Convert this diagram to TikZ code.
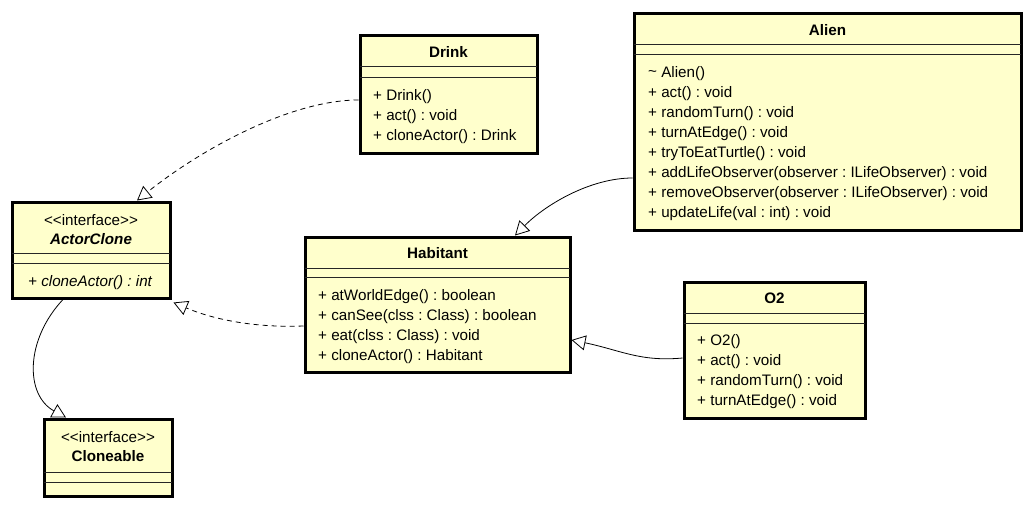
\documentclass[tikz,border=0pt]{standalone}
\usepackage{fontspec}
\setmainfont{Liberation Sans}
\usetikzlibrary{arrows.meta,fit}
\definecolor{umlfill}{HTML}{FFFFCC}
\newcommand{\umlfont}{\fontsize{15.2}{17}\selectfont\frenchspacing}
\tikzset{
  classbox/.style={draw=black, line width=3pt, fill=umlfill, inner sep=0pt},
  divider/.style={draw=black!85, line width=0.8pt},
  member/.style={anchor=mid west, inner sep=0pt, yshift=-3pt, font=\umlfont},
  ctitle/.style={anchor=mid, inner sep=0pt, yshift=-3pt, font=\umlfont\bfseries},
  stereo/.style={anchor=mid, inner sep=0pt, yshift=-3pt, font=\umlfont},
  inherit/.style={draw=black, line width=0.8pt, -{Triangle[open, length=14pt, width=15pt, line width=0.8pt]}},
  realize/.style={inherit, dash pattern=on 5pt off 4pt},
}
\begin{document}
\begin{tikzpicture}[x=1pt, y=-1pt]
\useasboundingbox (0,0) rectangle (1034,509);

% ---------- Drink
\node[classbox, fit={(360,35) (537,153)}] (drink) {};
\node[ctitle] (drinkT) at (448.5,52) {Drink};
\draw[divider] (360,66) -- (537,66);
\draw[divider] (360,77) -- (537,77);
\node[member] (drink1) at (373,95) {+ Drink()};
\node[member] (drink2) at (373,115) {+ act() : void};
\node[member] (drink3) at (373,135) {+ cloneActor() : Drink};

% ---------- Alien
\node[classbox, fit={(634,13) (1021,230)}] (alien) {};
\node[ctitle] (alienT) at (827.5,30) {Alien};
\draw[divider] (634,44) -- (1021,44);
\draw[divider] (634,54) -- (1021,54);
\node[member] (al1) at (648,72) {\raisebox{0.15ex}{\char"007E} Alien()};
\node[member] (al2) at (648,92) {+ act() : void};
\node[member] (al3) at (648,112) {+ randomTurn() : void};
\node[member] (al4) at (648,132) {+ turnAtEdge() : void};
\node[member] (al5) at (648,152) {+ tryToEatTurtle() : void};
\node[member] (al6) at (648,172) {+ addLifeObserver(observer : ILifeObserver) : void};
\node[member] (al7) at (648,192) {+ removeObserver(observer : ILifeObserver) : void};
\node[member] (al8) at (648,212) {+ updateLife(val : int) : void};

% ---------- ActorClone
\node[classbox, fit={(12,202) (170,298)}] (actorclone) {};
\node[stereo] (acS) at (91,220) {<{}<interface>{}>};
\node[ctitle, font=\umlfont\bfseries\itshape] (acT) at (91,239) {ActorClone};
\draw[divider] (12,253) -- (170,253);
\draw[divider] (12,263) -- (170,263);
\node[member, font=\umlfont\itshape] (ac1) at (28,281) {+ cloneActor() : int};

% ---------- Cloneable
\node[classbox, fit={(44,419) (172,496)}] (cloneable) {};
\node[stereo] (clS) at (108,437) {<{}<interface>{}>};
\node[ctitle] (clT) at (108,456) {Cloneable};
\draw[divider] (44,472) -- (172,472);
\draw[divider] (44,482) -- (172,482);

% ---------- Habitant
\node[classbox, fit={(305,237) (570,372)}] (habitant) {};
\node[ctitle] (habT) at (437.5,253) {Habitant};
\draw[divider] (305,268) -- (570,268);
\draw[divider] (305,277) -- (570,277);
\node[member] (h1) at (318,295) {+ atWorldEdge() : boolean};
\node[member] (h2) at (318,315) {+ canSee(clss : Class) : boolean};
\node[member] (h3) at (318,335) {+ eat(clss : Class) : void};
\node[member] (h4) at (318,355) {+ cloneActor() : Habitant};

% ---------- O2
\node[classbox, fit={(684,282) (865,418)}] (o2) {};
\node[ctitle] (o2T) at (774.5,298) {O2};
\draw[divider] (684,313) -- (865,313);
\draw[divider] (684,323) -- (865,323);
\node[member] (o21) at (697,340) {+ O2()};
\node[member] (o22) at (697,360) {+ act() : void};
\node[member] (o23) at (697,380) {+ randomTurn() : void};
\node[member] (o24) at (697,400) {+ turnAtEdge() : void};

% ---------- connectors
\draw[realize] ([yshift=-6pt]drink.west) .. controls (290,100) and (200,150) .. ([xshift=46pt]actorclone.north);
\draw[realize] ([yshift=-21.5pt]habitant.west) .. controls (250,328) and (210,318) .. ([xshift=2pt,yshift=-3pt]actorclone.south east);
\draw[inherit] ([xshift=-28pt]actorclone.south) .. controls (25,340) and (25,395) .. ([xshift=-42pt]cloneable.north);
\draw[inherit] ([yshift=-56.5pt]alien.west) .. controls (590,178) and (545,205) .. ([xshift=77.5pt]habitant.north);
\draw[inherit] ([yshift=-8pt]o2.west) .. controls (640,362) and (620,350) .. ([yshift=-35.5pt]habitant.east);
\end{tikzpicture}
\end{document}
